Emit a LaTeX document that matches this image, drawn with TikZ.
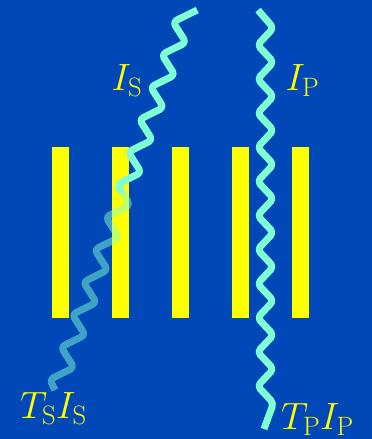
\documentclass[tikz,border=0pt]{standalone}
\usepackage{fix-cm}
\definecolor{bgblue}{RGB}{0,72,184}
\definecolor{baryellow}{RGB}{255,255,0}
\definecolor{wavecyan}{RGB}{127,255,212}
\tikzset{
  barbox/.style={fill=baryellow,draw=none},
  wave/.style={draw=wavecyan,line width=7pt,rounded corners=4pt,line join=round},
  lbl/.style={text=baryellow,inner sep=0pt,anchor=base west,font=\fontsize{38}{44}\selectfont}
}
\newcommand\swavepath{(197.2,10) \foreach \k in {0,...,10} { -- ({173-11.2*\k},{22+32.5*\k}) -- ({186-11.2*\k},{42.5+32.5*\k}) } -- (49.8,379.5) -- (55,390)}
\begin{document}
\begin{tikzpicture}[x=1pt,y=-1pt]
\useasboundingbox (0,0) rectangle (372,439);
\fill[bgblue] (0,0) rectangle (372,439);
% bars
\foreach \cx in {60,120,180,240,300} {
  \fill[barbox] ({\cx-8.5},147) rectangle ({\cx+8.5},318);
}
% P wave
\draw[wave] (258,10) \foreach \k in {0,...,10} { -- (273.5,{28+34.1*\k}) -- (257.5,{45+34.1*\k}) } -- (273.5,403.1) -- (264,429);
% S wave: incident part opaque, transmitted part translucent
\begin{scope}
  \clip (0,0) rectangle (372,192);
  \draw[wave] \swavepath;
\end{scope}
\begin{scope}
  \clip (0,192) rectangle (372,439);
  \draw[wave,opacity=0.5] \swavepath;
\end{scope}
% labels
\node[lbl] (is) at (111.5,90.7) {$I_{\mathrm{S}}$};
\node[lbl] (ip) at (285.5,90.7) {$I_{\mathrm{P}}$};
\node[lbl] (tsis) at (20,418.3) {$T_{\mathrm{S}}I_{\mathrm{S}}$};
\node[lbl] (tpip) at (281,429.5) {$T_{\mathrm{P}}I_{\mathrm{P}}$};
\end{tikzpicture}
\end{document}
